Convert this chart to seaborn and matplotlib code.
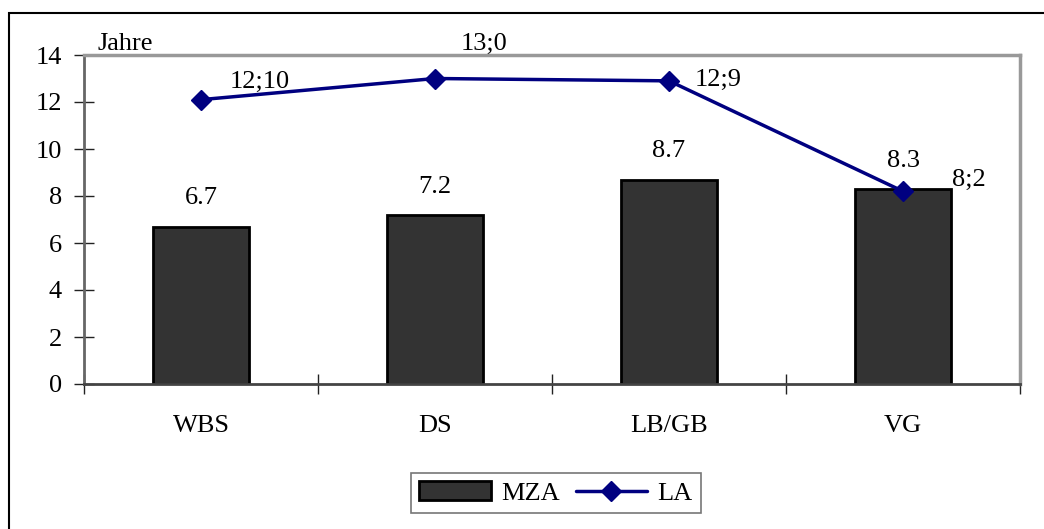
import numpy as np
import matplotlib
matplotlib.use('Agg')
import matplotlib.pyplot as plt
import matplotlib.patches as mpatches
from matplotlib.lines import Line2D
import seaborn as sns

# ── Data ─────────────────────────────────────────────────────────────────────
categories = ['WBS', 'DS', 'LB/GB', 'VG']
mza = [6.7, 7.2, 8.7, 8.3]
la = [12.1, 13.0, 12.9, 8.2]
la_labels = ['12;10', '13;0', '12;9', '8;2']

# ── Style ────────────────────────────────────────────────────────────────────
sns.set_theme(style='white')
plt.rcParams['font.family'] = ['Liberation Serif', 'DejaVu Serif']
plt.rcParams['font.size'] = 19
plt.rcParams['text.color'] = 'black'
plt.rcParams['xtick.color'] = 'black'
plt.rcParams['ytick.color'] = 'black'

FS = 19

fig = plt.figure(figsize=(10.44, 5.29), dpi=100, facecolor='white')
ax = fig.add_axes([84 / 1044, 1 - 384 / 529, 936 / 1044, 329 / 529])

sns.barplot(x=categories, y=mza, ax=ax, color='#333333', width=0.41,
            edgecolor='black', linewidth=2, saturation=1, zorder=2)
ax.plot(categories, la, color='#000080', lw=2.5, marker='D', ms=10,
        zorder=3)

# bar labels
for i, v in enumerate(mza):
    ax.text(i, v + 1.2, f'{v}', ha='center', va='center', fontsize=FS)

# LA labels
la_offsets = [(0.25, 0.75), (0.21, 1.45), (0.21, 0.05), (0.28, 0.5)]
for i, (v, lab) in enumerate(zip(la, la_labels)):
    dx, dy = la_offsets[i]
    ax.text(i + dx, v + dy, lab, ha='center', va='center', fontsize=FS,
            zorder=4)

ax.set_xlim(-0.5, 3.5)
ax.set_ylim(0, 14)
ax.set_yticks(np.arange(0, 15, 2))
ax.tick_params(axis='y', left=True, direction='inout', length=14, width=1,
               color='#222222', labelsize=FS, pad=9)
ax.tick_params(axis='x', which='major', bottom=False, length=0, labelsize=FS, pad=22)
ax.set_xticks(np.arange(-0.5, 4, 1), minor=True)
ax.tick_params(axis='x', which='minor', bottom=True, direction='inout', length=14,
               width=1, color='#222222')
ax.set_xlabel('')
ax.set_ylabel('')

for s in ['left', 'bottom']:
    ax.spines[s].set_color('#666666')
    ax.spines[s].set_linewidth(2)
for s in ['top', 'right']:
    ax.spines[s].set_color('#999999')
    ax.spines[s].set_linewidth(2.5)
ax.spines['bottom'].set_color('#444444')

ax.text(0.014, 1.0, 'Jahre', transform=ax.transAxes, ha='left', va='bottom',
        fontsize=FS)

# outer frame
fig.patches.append(mpatches.Rectangle((9 / 1044, -0.1), 1.2, 1 - 13 / 529 + 0.1,
                                      transform=fig.transFigure, fill=False,
                                      edgecolor='black', lw=1.5))

handles = [mpatches.Patch(facecolor='#333333', edgecolor='black', lw=2, label='MZA'),
           Line2D([0], [0], color='#000080', lw=2.5, marker='D', ms=10, label='LA')]
leg = fig.legend(handles=handles, loc='center', bbox_to_anchor=(556 / 1044, 1 - 493 / 529),
                 ncol=2, frameon=True, fancybox=False, fontsize=FS,
                 handlelength=2.7, handletextpad=0.4, columnspacing=0.6,
                 borderpad=0.3, edgecolor='#555555')
leg.get_frame().set_linewidth(1.2)

fig.savefig('out.png', dpi=100, facecolor='white')
